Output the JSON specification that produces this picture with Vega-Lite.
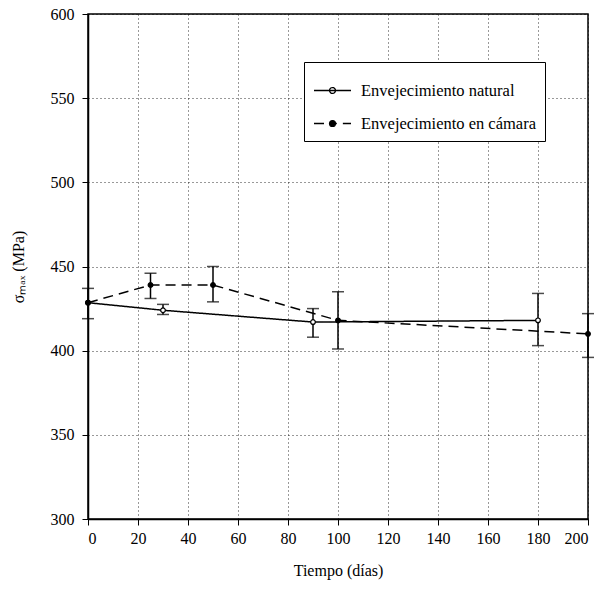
{
  "$schema": "https://vega.github.io/schema/vega-lite/v6.json",
  "width": 500,
  "height": 505,
  "autosize": "none",
  "padding": {"left": 88, "top": 14, "right": 13, "bottom": 71},
  "background": "white",
  "config": {
    "font": "Liberation Serif",
    "view": {"stroke": "black", "strokeWidth": 1.5},
    "axis": {
      "domainColor": "black", "domainWidth": 1.5,
      "tickColor": "black", "tickSize": 6, "tickWidth": 1,
      "labelFont": "Liberation Serif", "labelFontSize": 16, "labelColor": "black",
      "titleFont": "Liberation Serif", "titleFontSize": 16, "titleFontWeight": "normal", "titleColor": "black",
      "gridColor": "black", "gridDash": [1, 3], "gridOpacity": 0.8, "gridWidth": 1
    }
  },
  "data": {
    "values": [
      {"serie": "Envejecimiento natural", "t": 0, "s": 428.5, "lo": 419, "hi": 437},
      {"serie": "Envejecimiento natural", "t": 30, "s": 424, "lo": 421.5, "hi": 427.5},
      {"serie": "Envejecimiento natural", "t": 90, "s": 417, "lo": 408, "hi": 425},
      {"serie": "Envejecimiento natural", "t": 180, "s": 418, "lo": 403, "hi": 434},
      {"serie": "Envejecimiento en cámara", "t": 0, "s": 428.5, "lo": null, "hi": null},
      {"serie": "Envejecimiento en cámara", "t": 25, "s": 439, "lo": 431, "hi": 446},
      {"serie": "Envejecimiento en cámara", "t": 50, "s": 439, "lo": 429, "hi": 450},
      {"serie": "Envejecimiento en cámara", "t": 100, "s": 418, "lo": 401, "hi": 435},
      {"serie": "Envejecimiento en cámara", "t": 200, "s": 410, "lo": 396, "hi": 422}
    ]
  },
  "layer": [
    {
      "mark": {"type": "line", "strokeWidth": 1.5, "color": "black"},
      "encoding": {
        "x": {"field": "t", "type": "quantitative", "scale": {"domain": [0, 200], "nice": false}, "title": "Tiempo (días)",
          "axis": {"values": [0, 20, 40, 60, 80, 100, 120, 140, 160, 180, 200], "labelPadding": 5, "titlePadding": 16}},
        "y": {"field": "s", "type": "quantitative", "scale": {"domain": [300, 600], "nice": false}, "title": "σₘₐₓ  (MPa)",
          "axis": {"values": [300, 350, 400, 450, 500, 550, 600], "labelPadding": 8, "titlePadding": 24}},
        "strokeDash": {
          "field": "serie", "type": "nominal",
          "scale": {"domain": ["Envejecimiento natural", "Envejecimiento en cámara"], "range": [[1, 0], [10, 6]]},
          "legend": {
            "title": null, "orient": "none", "legendX": 216, "legendY": 48,
            "symbolType": "M-1,0L-0.16,0A0.16,0.16,0,1,1,0.16,0L1,0M0.16,0A0.16,0.16,0,1,1,-0.16,0Z",
            "symbolSize": 1369, "symbolStrokeColor": "black", "symbolStrokeWidth": 1.3,
            "labelFont": "Liberation Serif", "labelFontSize": 16.5, "labelColor": "black", "labelOffset": 9, "labelLimit": 400,
            "strokeColor": "black", "padding": 9, "rowPadding": 5, "fillColor": "white",
            "encode": {"symbols": {"update": {
              "fill": {"signal": "datum.value === 'Envejecimiento natural' ? 'white' : 'black'"},
              "stroke": {"value": "black"},
              "strokeWidth": {"value": 1.3},
              "opacity": {"value": 1}}}}
          }
        }
      }
    },
    {
      "transform": [{"filter": "isValid(datum.lo)"}],
      "mark": {"type": "errorbar", "ticks": true, "size": 12, "thickness": 1.5, "color": "black"},
      "encoding": {
        "x": {"field": "t", "type": "quantitative", "title": "Tiempo (días)"},
        "y": {"field": "lo", "type": "quantitative", "title": "σₘₐₓ  (MPa)"},
        "y2": {"field": "hi"}
      }
    },
    {
      "mark": {"type": "point", "filled": true, "size": 22, "strokeWidth": 1.2, "stroke": "black", "opacity": 1},
      "encoding": {
        "x": {"field": "t", "type": "quantitative", "title": "Tiempo (días)"},
        "y": {"field": "s", "type": "quantitative", "title": "σₘₐₓ  (MPa)"},
        "fill": {"field": "serie", "type": "nominal",
          "scale": {"domain": ["Envejecimiento natural", "Envejecimiento en cámara"], "range": ["white", "black"]},
          "legend": null}
      }
    }
  ]
}
